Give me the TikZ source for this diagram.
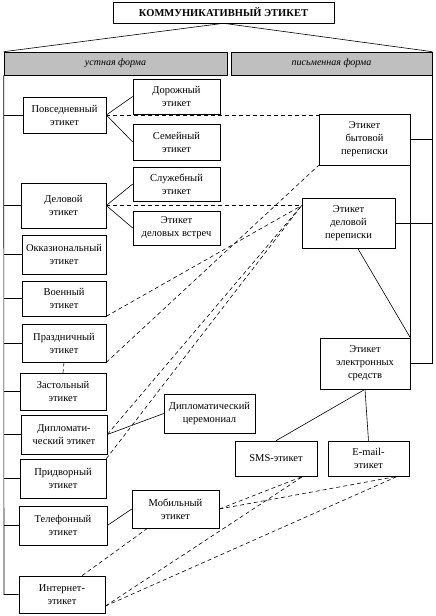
\documentclass[tikz,border=0pt]{standalone}
\usepackage{fontspec}
\setmainfont{Liberation Serif}
\begin{document}
\begin{tikzpicture}[x=1pt, y=-1pt, line width=0.6pt,
  box/.style 2 args={draw, fill=white, align=center, inner sep=1pt, minimum width=#1, minimum height=#2, font=\fontsize{10.5}{13}\selectfont},
  bar/.style={draw, fill=gray!50, minimum height=23pt, font=\fontsize{10}{12}\selectfont\itshape},
  link/.style={dash pattern=on 4pt off 3pt}]
\useasboundingbox (0,0) rectangle (436,616);

% Title and the two forms
\node[draw, minimum width=221pt, minimum height=21pt, font=\fontsize{10.5}{12}\selectfont\bfseries] (title) at (223.5,12.5) {КОММУНИКАТИВНЫЙ ЭТИКЕТ};
\node[bar, minimum width=223pt] (oral) at (115.5,63.5) {устная форма};
\node[bar, minimum width=201pt] (written) at (331.5,63.5) {письменная форма};
\draw (title.south) -- (oral.north west);
\draw (title.south) -- (written.north east);

% Oral form
\node[box={83pt}{36pt}] (povs) at (64.5,115) {Повседневный\\этикет};
\node[box={87pt}{35pt}] (road) at (176.5,96.5) {Дорожный\\этикет};
\node[box={87pt}{36pt}] (family) at (176.5,142) {Семейный\\этикет};
\node[box={87pt}{34pt}] (service) at (176.5,184) {Служебный\\этикет};
\node[box={85pt}{45pt}] (busi) at (63.5,205.5) {Деловой\\этикет};
\node[box={87pt}{34pt}] (meet) at (176.5,228) {Этикет\\деловых встреч};
\node[box={84pt}{39pt}] (occas) at (64,254.5) {Окказиональный\\этикет};
\node[box={84pt}{35pt}] (milit) at (64,298.5) {Военный\\этикет};
\node[box={84pt}{38pt}] (holid) at (64,343) {Праздничный\\этикет};
\node[box={86pt}{37pt}] (table) at (63,391.5) {Застольный\\этикет};
\node[box={86pt}{39pt}] (dipl) at (64,434.5) {Дипломати-\\ческий этикет};
\node[box={91pt}{39pt}] (cerem) at (209.5,413.5) {Дипломатический\\церемониал};
\node[box={86pt}{39pt}] (court) at (63,478.5) {Придворный\\этикет};
\node[box={88pt}{39pt}] (phone) at (63,525.5) {Телефонный\\этикет};
\node[box={87pt}{38pt}] (mobile) at (175.5,509) {Мобильный\\этикет};
\node[box={86pt}{37pt}] (inet) at (62,594.5) {Интернет-\\этикет};

% Written form
\node[box={91pt}{51pt}] (home) at (364.5,139.5) {Этикет\\бытовой\\переписки};
\node[box={93pt}{50pt}] (letters) at (348.5,223) {Этикет\\деловой\\переписки};
\node[box={90pt}{51pt}] (elec) at (365,363.5) {Этикет\\электронных\\средств};
\node[box={82pt}{35pt}] (sms) at (276,458.5) {SMS-этикет};
\node[box={81pt}{35pt}] (email) at (368.5,458.5) {E-mail-\\этикет};

% Left spine
\coordinate (lend) at (4,594.5);
\draw (oral.south west) -- (lend) -- (inet.west);
\foreach \n in {povs, busi, occas, milit, holid, table, dipl, court, phone}
  \draw (\n.west) -- (\n.west -| lend);

% Right spine
\draw (written.south east) -- (written.south east |- elec.east) -- (elec.east);
\draw (home.east) -- (home.east -| written.south east);
\draw (letters.east) -- (letters.east -| written.south east);
\draw (home.south east) -- (elec.north east);
\draw (letters.-70) -- (elec.north east);

% Solid links
\draw (povs.east) -- (road.west);
\draw (povs.east) -- (family.west);
\draw (busi.east) -- (service.west);
\draw (busi.east) -- (meet.west);
\draw (dipl.east) -- (cerem.west);
\draw (phone.east) -- (mobile.west);
\draw (elec.south) -- (sms.north);
\draw (elec.south) -- (email.north);

% Dashed links
\coordinate (lj) at (busi.east -| letters.west);
\coordinate (smsj) at ([xshift=27pt]sms.south);
\coordinate (emj) at ([xshift=29pt]email.south);
\draw[link] (povs.east) -- (povs.east -| home.west);
\draw[link] (busi.east) -- (lj);
\draw[link] (milit.south east) -- (lj);
\draw[link] (dipl.east) -- (lj);
\draw[link] (court.north east) -- (lj);
\draw[link] (holid.south east) -- (home.south west);
\draw[link] (holid.south) -- (table.north);
\draw[link] (mobile.east) -- (smsj);
\draw[link] (mobile.east) -- (emj);
\draw[link] (inet.-15) -- (smsj);
\draw[link] (inet.-15) -- (emj);
\draw[link] ([xshift=20pt]inet.north) -- ([xshift=-28pt]mobile.south);
\end{tikzpicture}
\end{document}
